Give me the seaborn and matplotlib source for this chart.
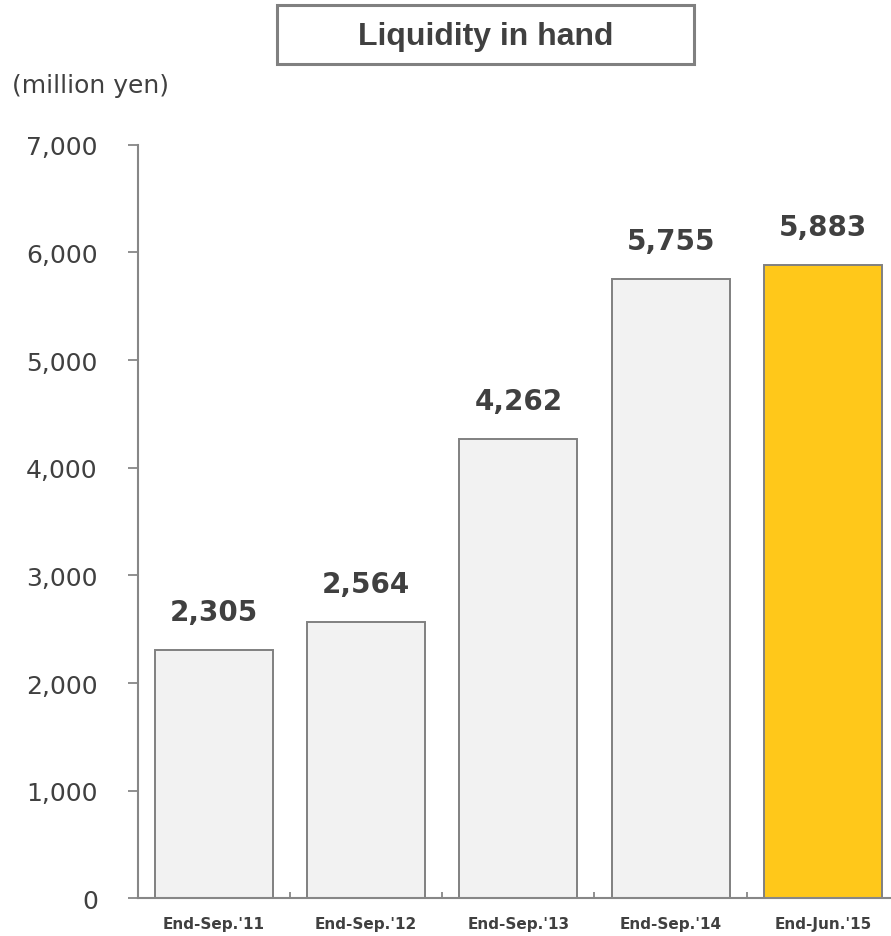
import matplotlib
matplotlib.use("Agg")
import matplotlib.pyplot as plt
from matplotlib.patches import Rectangle
from matplotlib.ticker import FixedLocator, FuncFormatter
import pandas as pd
import seaborn as sns

# Liquidity in hand, million yen
periods = ["End-Sep.'11", "End-Sep.'12", "End-Sep.'13", "End-Sep.'14", "End-Jun.'15"]
liquidity = [2305, 2564, 4262, 5755, 5883]
bar_colors = ["#F2F2F2", "#F2F2F2", "#F2F2F2", "#F2F2F2", "#FFC81A"]
y_ticks = [0, 1000, 2000, 3000, 4000, 5000, 6000, 7000]

df = pd.DataFrame({"period": periods, "liquidity": liquidity})

sns.set_style("white")
plt.rcParams["font.family"] = ["DejaVu Sans"]

TEXT = "#404040"
AXIS = "#878787"

fig = plt.figure(figsize=(8.91, 9.37), dpi=100)
ax = fig.add_axes([0.1545, 0.0402, 0.8545, 0.8043])

sns.barplot(data=df, x="period", y="liquidity", hue="period",
            palette=bar_colors, order=periods, hue_order=periods,
            width=0.776, edgecolor="#808080", linewidth=1.4, saturation=1,
            legend=False, ax=ax)

ax.set_xlim(-0.5, len(periods) - 0.5)
ax.set_ylim(0, 7000)
ax.set_xlabel("")
ax.set_ylabel("")

# value labels above bars
for i, v in enumerate(liquidity):
    ax.annotate(f"{v:,}", xy=(i, v), xytext=(0, 21.6), textcoords="offset points",
                ha="center", va="baseline", fontsize=20, fontweight="bold",
                color=TEXT)

# spines
for side in ("top", "right"):
    ax.spines[side].set_visible(False)
for side in ("left", "bottom"):
    ax.spines[side].set_color(AXIS)
    ax.spines[side].set_linewidth(1.5)

# y axis
ax.yaxis.set_major_locator(FixedLocator(y_ticks))
ax.yaxis.set_major_formatter(FuncFormatter(lambda v, p: f"{int(v):,}"))
ax.tick_params(axis="y", which="major", direction="out", length=7.2, width=1.3,
               color=AXIS, pad=21.5, labelsize=18, labelcolor=TEXT, left=True)

# x axis: labels at bar centres, small inward ticks between categories
ax.tick_params(axis="x", which="major", length=0, pad=13, labelsize=11,
               labelcolor=TEXT)
for lbl in ax.get_xticklabels():
    lbl.set_fontweight("bold")
ax.xaxis.set_minor_locator(FixedLocator([i + 0.5 for i in range(len(periods) - 1)]))
ax.tick_params(axis="x", which="minor", direction="in", length=4, width=1.3,
               color=AXIS, bottom=True)

# unit note
fig.text(12 / 891, 1 - 86 / 937, "(million yen)", fontsize=18, color=TEXT,
         ha="left", va="center")

# boxed title
fig.patches.append(Rectangle((277 / 891, 1 - 65 / 937), 417 / 891, 59 / 937,
                             transform=fig.transFigure, facecolor="white",
                             edgecolor="#808080", linewidth=2.2))
fig.text(485.5 / 891, 1 - 37 / 937, "Liquidity in hand", fontsize=23,
         fontweight="bold", family="Liberation Sans", color=TEXT,
         ha="center", va="center")

fig.savefig("out.png", dpi=100)
